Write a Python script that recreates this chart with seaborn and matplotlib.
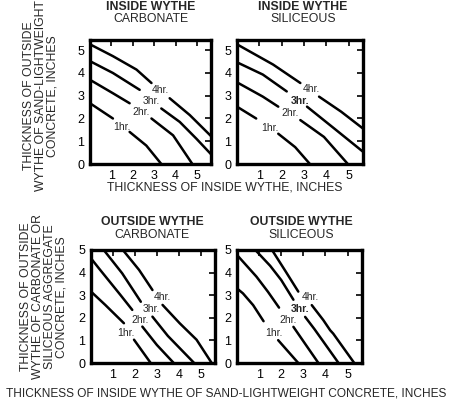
import pandas as pd
import matplotlib.pyplot as plt
import seaborn as sns

sns.set_style('white')
plt.rcParams['font.family'] = ['Liberation Sans', 'DejaVu Sans']

# curve labels
hr_labels = ['1hr.', '2hr.', '3hr.', '4hr.']

# each curve is drawn as two pieces, broken where its label sits
# inside wythe carbonate (x = inside wythe, y = outside wythe, inches)
ic_x = [[[0, 1.07], [1.85, 2.63, 3.33]],
        [[0, 1.07, 1.85], [2.87, 3.88, 4.78]],
        [[0, 1.07, 2.32], [3.33, 4.19, 4.97, 5.7]],
        [[0, 1.07, 2.17, 2.87], [3.72, 4.66, 5.7]]]
ic_y = [[[2.67, 2.0], [1.41, 0.81, 0]],
        [[3.70, 3.11, 2.67], [2.0, 1.26, 0]],
        [[4.52, 4.0, 3.26], [2.44, 1.85, 1.11, 0.38]],
        [[5.26, 4.74, 4.15, 3.56], [2.89, 2.15, 1.18]]]
ic_lab = [(1.51, 1.63), (2.4, 2.3), (2.87, 2.78), (3.3, 3.24)]

# inside wythe siliceous
is_x = [[[0, 0.86], [1.85, 2.61, 3.27]],
        [[0, 1.16, 1.85], [2.84, 3.9, 4.97]],
        [[0, 1.16, 2.23], [3.14, 4.36, 5.7]],
        [[0, 1.62, 2.84], [3.68, 4.67, 5.7]]]
is_y = [[[2.52, 2.0], [1.33, 0.74, 0]],
        [[3.59, 2.96, 2.52], [1.93, 1.19, 0]],
        [[4.47, 3.93, 3.19], [2.52, 1.56, 0.5]],
        [[5.26, 4.37, 3.56], [2.96, 2.30, 1.52]]]
is_lab = [(1.47, 1.6), (2.38, 2.25), (2.81, 2.76), (3.33, 3.28)]

# outside wythe carbonate
oc_x = [[[0, 0.65, 1.50], [1.96, 2.72]],
        [[0, 0.35, 1.35, 1.88], [2.34, 3.0, 3.77]],
        [[0.54, 1.42, 2.27], [2.80, 3.5, 4.70]],
        [[1.41, 2.19, 2.80], [3.26, 4.04, 4.81, 5.5]]]
oc_y = [[[3.16, 2.57, 1.76], [1.03, 0]],
        [[4.63, 4.2, 3.0, 2.35], [1.61, 0.8, 0]],
        [[5.05, 3.97, 2.71], [2.05, 1.2, 0]],
        [[5.05, 4.12, 3.23], [2.57, 1.76, 1.03, 0]]]
oc_lab = [(1.61, 1.33), (2.23, 1.9), (2.74, 2.41), (3.25, 2.93)]

# outside wythe siliceous
os_x = [[[0, 0.27, 0.73, 1.2], [1.86, 2.77]],
        [[0, 0.88, 1.4, 1.9], [2.55, 3.1, 3.68]],
        [[0.78, 1.5, 2.0, 2.55], [3.08, 3.5, 4.59]],
        [[1.55, 2.2, 2.77], [3.38, 3.9, 4.21, 4.35, 5.3]]]
os_y = [[[3.3, 3.08, 2.56, 1.85], [1.01, 0]],
        [[4.78, 3.82, 3.15, 2.45], [1.6, 0.82, 0]],
        [[5.05, 4.3, 3.67, 2.8], [2.04, 1.5, 0]],
        [[5.05, 4.05, 3.16], [2.56, 1.9, 1.45, 1.3, 0]]]
os_lab = [(1.67, 1.33), (2.32, 1.92), (2.85, 2.41), (3.30, 2.93)]

W, H = 451, 403
FS = 8.8


def draw(ax, xs, ys, lab_xy, ytop, bold3=False):
    frames = []
    for name, xseg, yseg in zip(hr_labels, xs, ys):
        for k, (x, y) in enumerate(zip(xseg, yseg)):
            frames.append(pd.DataFrame({'x': x, 'y': y,
                                        'piece': f'{name}{k}'}))
    df = pd.concat(frames, ignore_index=True)
    sns.lineplot(data=df, x='x', y='y', units='piece', estimator=None,
                 sort=False, color='black', lw=1.8, ax=ax)
    for i, (name, (lx, ly)) in enumerate(zip(hr_labels, lab_xy)):
        wt = 'bold' if (bold3 and i == 2) else 'normal'
        ax.text(lx, ly, name, ha='center', va='center', fontsize=7.5,
                fontweight=wt, zorder=5)
    ax.set_xlim(0, 5.65)
    ax.set_ylim(0, ytop)
    ax.set_xticks([1, 2, 3, 4, 5])
    ax.set_yticks([0, 1, 2, 3, 4, 5])
    ax.tick_params(direction='in', top=True, right=True, length=4,
                   width=1.2, labelsize=9, pad=4, colors='black')
    for s in ax.spines.values():
        s.set_linewidth(2.4)
        s.set_color('black')
    ax.set_xlabel('')
    ax.set_ylabel('')


def title(cx, y1, y2, top, bottom):
    fig.text(cx / W, 1 - y1 / H, top, ha='center', va='center',
             fontsize=FS, fontweight='bold')
    fig.text(cx / W, 1 - y2 / H, bottom, ha='center', va='center',
             fontsize=FS)


def rect(l, t, r, b):
    return [l / W, 1 - b / H, (r - l) / W, (b - t) / H]


fig = plt.figure(figsize=(W / 100, H / 100), dpi=100)

ax1 = fig.add_axes(rect(90, 40, 211, 164))
ax2 = fig.add_axes(rect(237, 40, 363, 164))
ax3 = fig.add_axes(rect(91, 250, 215, 363))
ax4 = fig.add_axes(rect(237, 250, 362, 363))

draw(ax1, ic_x, ic_y, ic_lab, 5.45)
draw(ax2, is_x, is_y, is_lab, 5.45, bold3=True)
draw(ax3, oc_x, oc_y, oc_lab, 5.0)
draw(ax4, os_x, os_y, os_lab, 5.0, bold3=True)

title(151, 7, 19, 'INSIDE WYTHE', 'CARBONATE')
title(303, 7, 19, 'INSIDE WYTHE', 'SILICEOUS')
title(152, 222, 235, 'OUTSIDE WYTHE', 'CARBONATE')
title(301, 222, 235, 'OUTSIDE WYTHE', 'SILICEOUS')

fig.text(225 / W, 1 - 187 / H, 'THICKNESS OF INSIDE WYTHE, INCHES',
         ha='center', va='center', fontsize=FS)
fig.text(226 / W, 1 - 393 / H,
         'THICKNESS OF INSIDE WYTHE OF SAND-LIGHTWEIGHT CONCRETE, INCHES',
         ha='center', va='center', fontsize=8.6)
fig.text(41 / W, 1 - 96 / H,
         'THICKNESS OF OUTSIDE\nWYTHE OF SAND-LIGHTWEIGHT\nCONCRETE, INCHES',
         rotation=90, ha='center', va='center', multialignment='center',
         fontsize=FS, linespacing=1.0)
fig.text(44 / W, 1 - 297 / H,
         'THICKNESS OF OUTSIDE\nWYTHE OF CARBONATE OR\nSILICEOUS AGGREGATE\nCONCRETE, INCHES',
         rotation=90, ha='center', va='center', multialignment='center',
         fontsize=FS, linespacing=1.0)

fig.savefig('out.png', dpi=100, facecolor='white')
